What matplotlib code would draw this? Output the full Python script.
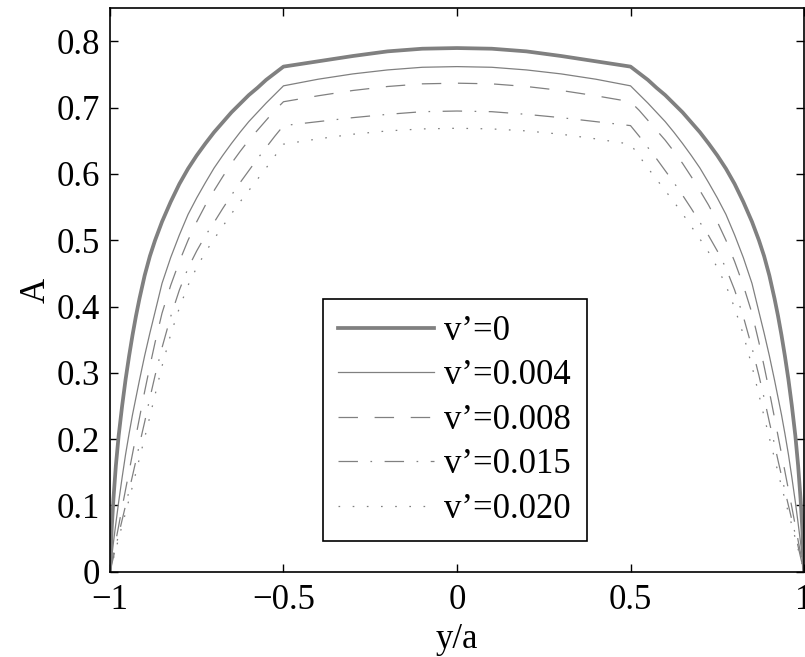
import matplotlib
matplotlib.use("Agg")
import matplotlib.pyplot as plt

plt.rcParams["font.family"] = ["Liberation Serif", "DejaVu Serif"]
plt.rcParams["lines.scale_dashes"] = False

# y/a positions (same grid for every curve)
y_a = [-1.0, -0.995, -0.99, -0.983, -0.975, -0.965, -0.955, -0.945, -0.935, -0.925,
       -0.915, -0.9, -0.885, -0.87, -0.85, -0.825, -0.8, -0.775, -0.75, -0.725,
       -0.7, -0.675, -0.65, -0.625, -0.6, -0.575, -0.55, -0.525, -0.5,
       -0.4, -0.3, -0.2, -0.1, 0.0, 0.1, 0.2, 0.3, 0.4,
       0.5, 0.525, 0.55, 0.575, 0.6, 0.625, 0.65, 0.675, 0.7, 0.725,
       0.75, 0.775, 0.8, 0.825, 0.85, 0.87, 0.885, 0.9, 0.915, 0.925,
       0.935, 0.945, 0.955, 0.965, 0.975, 0.983, 0.99, 0.995, 1.0]

A_v0 = [0.0, 0.065, 0.11, 0.16, 0.205, 0.25, 0.29, 0.325, 0.357, 0.386,
        0.412, 0.447, 0.476, 0.5, 0.528, 0.558, 0.585, 0.608, 0.628, 0.646,
        0.663, 0.678, 0.693, 0.706, 0.719, 0.730, 0.742, 0.752, 0.762,
        0.770, 0.778, 0.785, 0.789, 0.790, 0.789, 0.785, 0.778, 0.770,
        0.762, 0.752, 0.742, 0.730, 0.719, 0.706, 0.693, 0.678, 0.663, 0.646,
        0.628, 0.608, 0.585, 0.558, 0.528, 0.5, 0.476, 0.447, 0.412, 0.386,
        0.357, 0.325, 0.29, 0.25, 0.205, 0.16, 0.11, 0.065, 0.0]

A_v004 = [0.0, 0.022, 0.044, 0.073, 0.105, 0.142, 0.177, 0.208, 0.237, 0.263,
          0.289, 0.326, 0.36, 0.392, 0.435, 0.474, 0.508, 0.539, 0.564, 0.587,
          0.609, 0.628, 0.646, 0.663, 0.679, 0.693, 0.707, 0.72, 0.733,
          0.743, 0.751, 0.757, 0.761, 0.762, 0.761, 0.757, 0.751, 0.743,
          0.733, 0.72, 0.707, 0.693, 0.679, 0.663, 0.646, 0.628, 0.609, 0.587,
          0.564, 0.539, 0.508, 0.474, 0.435, 0.392, 0.36, 0.326, 0.289, 0.263,
          0.237, 0.208, 0.177, 0.142, 0.105, 0.073, 0.044, 0.022, 0.0]

A_v008 = [0.0, 0.014, 0.028, 0.047, 0.069, 0.097, 0.124, 0.151, 0.178, 0.205,
          0.232, 0.272, 0.31, 0.346, 0.39, 0.432, 0.468, 0.5, 0.528, 0.553,
          0.575, 0.596, 0.616, 0.634, 0.651, 0.666, 0.681, 0.696, 0.709,
          0.718, 0.726, 0.732, 0.736, 0.737, 0.736, 0.732, 0.726, 0.718,
          0.709, 0.696, 0.681, 0.666, 0.651, 0.634, 0.616, 0.596, 0.575, 0.553,
          0.528, 0.5, 0.468, 0.432, 0.39, 0.346, 0.31, 0.272, 0.232, 0.205,
          0.178, 0.151, 0.124, 0.097, 0.069, 0.047, 0.028, 0.014, 0.0]

A_v015 = [0.0, 0.011, 0.022, 0.038, 0.056, 0.078, 0.1, 0.122, 0.145, 0.168,
          0.192, 0.226, 0.262, 0.296, 0.338, 0.385, 0.425, 0.458, 0.484, 0.507,
          0.527, 0.548, 0.568, 0.587, 0.605, 0.623, 0.64, 0.657, 0.673,
          0.679, 0.685, 0.690, 0.694, 0.695, 0.694, 0.690, 0.685, 0.679,
          0.673, 0.657, 0.64, 0.623, 0.605, 0.587, 0.568, 0.548, 0.527, 0.507,
          0.484, 0.458, 0.425, 0.385, 0.338, 0.296, 0.262, 0.226, 0.192, 0.168,
          0.145, 0.122, 0.1, 0.078, 0.056, 0.038, 0.022, 0.011, 0.0]

A_v020 = [0.0, 0.01, 0.02, 0.034, 0.05, 0.07, 0.089, 0.109, 0.129, 0.15,
          0.171, 0.202, 0.234, 0.267, 0.31, 0.358, 0.398, 0.432, 0.459, 0.482,
          0.502, 0.521, 0.54, 0.558, 0.575, 0.592, 0.609, 0.627, 0.645,
          0.653, 0.66, 0.665, 0.668, 0.669, 0.668, 0.665, 0.66, 0.653,
          0.645, 0.627, 0.609, 0.592, 0.575, 0.558, 0.54, 0.521, 0.502, 0.482,
          0.459, 0.432, 0.398, 0.358, 0.31, 0.267, 0.234, 0.202, 0.171, 0.15,
          0.129, 0.109, 0.089, 0.07, 0.05, 0.034, 0.02, 0.01, 0.0]

labels = ["v\u2019=0", "v\u2019=0.004", "v\u2019=0.008", "v\u2019=0.015", "v\u2019=0.020"]

gray = "#808080"
fig = plt.figure(figsize=(8.05, 6.57), dpi=100)
ax = fig.add_axes([0.1366, 0.1298, 0.8622, 0.8576])

ax.plot(y_a, A_v0, color=gray, lw=2.7, label=labels[0])
ax.plot(y_a, A_v004, color=gray, lw=0.9, label=labels[1])
ax.plot(y_a, A_v008, color=gray, lw=0.9, ls=(0, (14, 12)), label=labels[2])
ax.plot(y_a, A_v015, color=gray, lw=0.9, ls=(0, (14, 9, 1.2, 9)), label=labels[3])
ax.plot(y_a, A_v020, color=gray, lw=0.9, ls=(0, (1.2, 9)), label=labels[4])

ax.set_xlim(-1, 1)
ax.set_ylim(0, 0.85)
ax.set_xticks([-1, -0.5, 0, 0.5, 1])
ax.set_xticklabels(["\u22121", "\u22120.5", "0", "0.5", "1"])
ax.set_yticks([0, 0.1, 0.2, 0.3, 0.4, 0.5, 0.6, 0.7, 0.8])
ax.set_yticklabels(["0", "0.1", "0.2", "0.3", "0.4", "0.5", "0.6", "0.7", "0.8"])
ax.tick_params(direction="in", length=6, width=1, labelsize=25,
               top=True, right=True)
ax.tick_params(axis="x", pad=9)
ax.tick_params(axis="y", pad=7)
for sp in ax.spines.values():
    sp.set_linewidth(1.2)
ax.set_xlabel("y/a", fontsize=25, labelpad=4)
ax.set_ylabel("A", fontsize=25, labelpad=3)

leg = ax.legend(loc="upper left", bbox_to_anchor=(0.3065, 0.4835), fontsize=25,
                frameon=True, fancybox=False, framealpha=1, edgecolor="black",
                handlelength=2.75, handletextpad=0.3, labelspacing=0.33,
                borderpad=0.45, borderaxespad=0)
leg.get_frame().set_linewidth(1.2)

fig.savefig("out.png", dpi=100)
